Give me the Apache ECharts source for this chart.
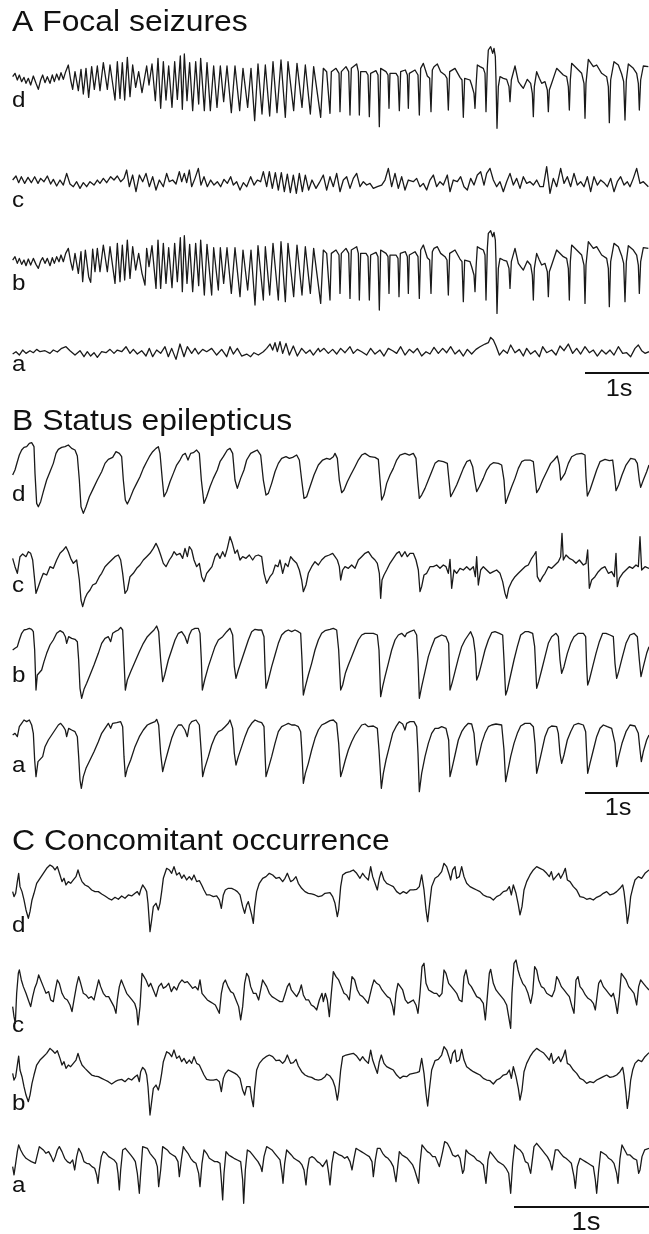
<!DOCTYPE html>
<html><head><meta charset="utf-8">
<script src="https://cdn.jsdelivr.net/npm/echarts/dist/echarts.min.js"></script>
<style>html,body{margin:0;padding:0;background:#fff}#c{width:649px;height:1234px}</style>
</head><body><div id="c"></div>
<script>
// sampling rates (samples per second) of each panel's time axis
const fsA = 192, fsB = 192, fsC = 405;
const scaleBarSeconds = 1;
const panelTitles = ['A Focal seizures', 'B Status epilepticus', 'C Concomitant occurrence'];
const traceLabels = ['d', 'c', 'b', 'a'];
const scaleBarLabel = '1s';

// ---- Panel A: focal seizures, [sample, amplitude] ----
const A_d = [[38,10],[45,20],[52,0],[58,15],[65,-5],[72,8],[78,-10],[85,5],[92,-15],[100,12],[108,-10],[115,-28],[122,0],[128,15],[135,-8],[142,10],[150,-10],[157,15],[163,-5],[170,18],[177,0],[183,22],[190,2],[197,25],[205,45],[212,0],[218,-28],[225,25],[235,-32],[243,32],[250,-42],[258,35],[266,-52],[275,40],[283,-28],[292,42],[300,-32],[310,52],[322,-28],[330,45],[345,-60],[352,55],[360,-55],[367,52],[374,-60],[382,68],[390,-50],[398,45],[407,-22],[416,25],[426,-38],[440,42],[447,-15],[456,48],[466,-62],[474,65],[482,-85],[490,55],[498,-60],[506,42],[516,-82],[524,55],[532,-58],[541,72],[547,-88],[553,78],[561,-62],[569,52],[578,-92],[587,55],[596,-72],[602,65],[613,-92],[621,52],[631,-92],[641,42],[651,-82],[661,42],[671,-65],[681,42],[694,-98],[705,42],[719,-92],[729,35],[743,-82],[753,35],[764,-122],[774,48],[786,-102],[796,45],[809,-108],[819,55],[831,-98],[843,60],[856,-112],[864,55],[881,-92],[891,50],[906,-82],[916,45],[931,-102],[941,40],[962,-112],
[970,35],[980,25],[986,20],[990,-100],[994,25],[1008,35],[1017,20],[1020,-95],[1024,25],[1038,40],[1046,25],[1050,-105],[1054,35],[1060,40],[1070,48],[1075,25],[1078,-105],[1082,25],[1088,25],[1098,25],[1104,15],[1108,-110],[1112,20],[1118,18],[1128,28],[1134,15],[1138,-140],[1142,35],[1148,40],[1158,25],[1164,15],[1167,-85],[1170,20],[1175,25],[1188,20],[1194,10],[1198,-92],[1202,25],[1206,28],[1216,30],[1222,15],[1225,-85],[1228,20],[1233,25],[1245,30],[1254,15],[1258,-105],[1262,35],[1270,50],[1282,12],[1289,5],[1293,-95],[1297,30],[1302,40],[1312,48],[1322,25],[1335,15],[1341,5],[1345,-90],[1349,25],[1353,30],[1365,35],[1380,8],[1386,0],[1390,-112],[1394,5],[1400,10],[1410,0],[1415,-15],[1422,-40],[1425,-85],[1428,-20],[1432,45],[1440,40],[1450,35],[1455,20],[1458,-95],[1462,40],[1465,90],[1472,100],[1478,80],[1482,95],[1486,70],[1488,0],[1491,-145],[1495,-20],[1500,10],[1510,5],[1520,2],[1527,-20],[1530,-65],[1534,0],[1545,42],[1555,-5],[1562,-15],[1570,-25],[1582,2],[1592,-10],[1597,-40],[1600,-110],[1603,-20],[1610,25],[1618,5],[1625,-10],[1635,-5],[1642,-30],[1645,-95],[1648,-30],[1655,-10],[1670,35],[1690,15],[1700,10],[1705,-20],[1708,-90],[1711,0],[1715,50],[1730,35],[1745,20],[1752,-10],[1755,-115],[1758,-10],[1765,62],[1780,40],[1790,45],[1805,20],[1820,10],[1825,-20],[1828,-128],[1832,0],[1842,55],[1855,45],[1865,18],[1871,-5],[1875,-120],[1879,0],[1885,48],[1900,35],[1910,20],[1915,-10],[1918,-90],[1922,0],[1930,42],[1945,40]];

const A_c = [[38,5],[48,17],[56,-3],[64,15],[74,-5],[84,13],[94,-3],[104,15],[114,-5],[122,10],[132,0],[142,17],[152,-7],[160,7],[170,-13],[180,5],[190,-10],[200,25],[210,-7],[220,-15],[230,0],[240,-20],[250,-3],[260,-15],[270,0],[282,-10],[292,5],[300,-5],[310,10],[320,-3],[332,15],[342,5],[352,17],[362,0],[372,10],[380,35],[388,-15],[398,20],[408,-30],[418,20],[428,0],[438,25],[448,-15],[458,15],[468,-25],[478,5],[490,-15],[500,25],[508,0],[518,5],[528,-7],[538,30],[545,0],[553,25],[560,-3],[568,35],[575,-15],[585,10],[595,40],[603,-10],[612,15],[622,-15],[632,5],[642,-10],[652,0],[662,-15],[672,7],[682,-5],[692,15],[700,-10],[710,0],[720,-25],[730,-3],[740,-15],[752,15],[762,-10],[772,5],[782,0],[790,30],[800,-15],[808,30],[817,-20],[826,27],[835,-25],[844,27],[853,-30],[862,23],[871,-33],[880,20],[889,-35],[898,25],[907,-30],[916,20],[926,-25],[936,5],[948,-20],[958,-3],
[970,20],[980,-25],[990,15],[1000,-15],[1010,25],[1020,-30],[1030,5],[1040,15],[1050,-20],[1060,10],[1070,25],[1080,-15],[1090,0],[1100,-10],[1110,-5],[1120,-20],[1132,-15],[1145,-10],[1155,5],[1165,40],[1175,-15],[1185,25],[1195,-20],[1205,15],[1215,-25],[1225,5],[1240,0],[1250,10],[1260,-15],[1270,-5],[1280,-25],[1290,5],[1300,20],[1310,-15],[1320,0],[1330,-10],[1342,20],[1350,-30],[1360,5],[1372,0],[1382,15],[1392,-15],[1402,-25],[1412,10],[1422,-10],[1432,20],[1442,30],[1452,-10],[1460,25],[1470,40],[1480,5],[1490,-15],[1500,0],[1510,-30],[1520,0],[1530,25],[1540,-10],[1550,10],[1560,-20],[1570,15],[1580,-5],[1590,0],[1600,-10],[1610,5],[1620,-15],[1630,-15],[1640,45],[1650,-35],[1660,10],[1670,-15],[1682,40],[1692,-5],[1702,15],[1712,-15],[1722,25],[1732,-10],[1742,0],[1752,-15],[1762,15],[1772,-30],[1782,15],[1792,-10],[1802,5],[1812,-3],[1822,-15],[1832,10],[1842,-30],[1852,0],[1862,15],[1872,-10],[1882,0],[1890,-15],[1900,10],[1910,40],[1920,-5],[1930,0],[1945,-15]];

const A_b = [[38,5],[45,15],[52,-5],[58,10],[65,-8],[72,5],[78,-12],[85,8],[92,-10],[100,10],[108,-8],[115,-20],[122,2],[128,12],[135,-5],[142,10],[150,-12],[157,12],[163,-5],[170,15],[177,0],[183,20],[190,0],[197,25],[205,40],[212,0],[218,-25],[225,25],[235,-35],[243,30],[248,-60],[256,35],[266,-45],[272,-62],[278,38],[285,-30],[292,40],[300,-30],[310,50],[322,-30],[330,45],[345,-65],[352,55],[360,-60],[367,50],[374,-55],[382,65],[390,-50],[398,45],[407,-25],[416,25],[426,-35],[435,-70],[440,40],[447,-15],[456,48],[468,-80],[474,65],[482,-80],[490,55],[498,-65],[506,42],[516,-78],[524,55],[532,-60],[541,72],[547,-90],[553,78],[561,-65],[569,52],[578,-90],[587,55],[596,-72],[602,65],[613,-100],[621,52],[635,-100],[641,42],[655,-85],[661,42],[671,-65],[681,42],[694,-95],[705,42],[720,-105],[729,35],[743,-85],[753,35],[765,-130],[774,48],[790,-115],[796,45],[809,-100],[819,55],[835,-115],[843,60],[856,-120],[864,55],[881,-105],[891,50],[906,-100],[916,45],[931,-95],[941,40],[962,-125],
[970,35],[980,25],[986,20],[990,-115],[994,25],[1008,35],[1017,20],[1020,-95],[1024,25],[1038,40],[1046,25],[1050,-110],[1054,35],[1060,40],[1070,45],[1075,25],[1078,-115],[1082,25],[1088,25],[1098,25],[1104,15],[1108,-115],[1112,20],[1118,18],[1128,28],[1134,15],[1138,-145],[1142,35],[1148,40],[1158,25],[1164,15],[1167,-95],[1170,20],[1175,25],[1188,20],[1194,10],[1197,-105],[1201,25],[1206,28],[1216,30],[1222,15],[1225,-95],[1228,20],[1233,25],[1245,30],[1254,15],[1258,-110],[1262,35],[1270,50],[1282,12],[1289,5],[1293,-95],[1297,30],[1302,40],[1312,45],[1322,25],[1335,15],[1341,5],[1345,-100],[1349,25],[1353,30],[1365,35],[1380,8],[1386,0],[1390,-120],[1394,5],[1400,10],[1410,0],[1415,-15],[1422,-40],[1425,-90],[1428,-20],[1432,45],[1440,40],[1450,35],[1455,20],[1458,-115],[1462,40],[1465,85],[1472,93],[1478,75],[1482,88],[1486,65],[1488,0],[1491,-155],[1495,-20],[1500,10],[1510,5],[1520,2],[1527,-20],[1530,-80],[1534,0],[1545,40],[1555,-5],[1562,-15],[1570,-25],[1582,2],[1592,-10],[1597,-40],[1600,-115],[1603,-20],[1610,25],[1618,5],[1625,-10],[1635,-5],[1642,-30],[1645,-105],[1648,-30],[1655,-10],[1670,35],[1690,15],[1700,10],[1705,-20],[1708,-115],[1711,0],[1715,50],[1730,35],[1745,20],[1752,-10],[1755,-125],[1758,-10],[1765,60],[1780,40],[1790,45],[1805,20],[1820,10],[1825,-20],[1828,-135],[1832,0],[1842,55],[1855,45],[1865,18],[1871,-5],[1875,-120],[1879,0],[1885,48],[1900,35],[1910,20],[1915,-10],[1918,-95],[1922,0],[1930,42],[1945,40]];

const A_a = [[38,-7],[48,0],[58,-10],[68,5],[78,-5],[90,3],[100,-3],[110,7],[120,0],[135,3],[150,-5],[160,5],[172,-1],[185,10],[198,15],[210,3],[225,-10],[240,3],[252,-15],[262,0],[272,-13],[282,-3],[292,-17],[305,0],[318,-3],[330,7],[342,-5],[352,5],[365,0],[378,15],[390,-5],[400,7],[412,-7],[425,3],[438,-13],[448,10],[458,-15],[470,5],[482,-5],[495,15],[505,-15],[515,10],[528,-23],[540,23],[552,-15],[562,15],[575,-5],[585,10],[595,-7],[608,7],[620,0],[635,10],[650,-10],[665,7],[680,-15],[690,15],[700,-7],[712,10],[725,-13],[740,-7],[752,-15],[762,-3],[775,-10],[790,0],[800,10],[810,23],[818,5],[825,27],[832,0],[840,30],[848,-5],[858,25],[868,-10],[880,17],[892,-13],[905,10],[918,-5],[930,5],[940,-10],[955,10],
[960,0],[972,10],[985,-5],[998,7],[1010,-7],[1022,10],[1035,-3],[1050,15],[1060,-5],[1072,7],[1085,0],[1100,-10],[1112,10],[1125,-7],[1140,5],[1152,-13],[1165,10],[1178,3],[1190,-5],[1202,15],[1215,-10],[1228,7],[1240,-3],[1252,10],[1265,-13],[1278,0],[1290,-7],[1302,13],[1315,-5],[1328,10],[1340,-3],[1352,15],[1365,-7],[1378,5],[1390,-13],[1402,7],[1415,-7],[1428,7],[1440,15],[1455,23],[1465,27],[1472,43],[1480,35],[1488,17],[1498,-10],[1510,5],[1522,-5],[1532,20],[1545,-3],[1558,7],[1570,-13],[1580,10],[1592,-7],[1605,3],[1618,-15],[1628,15],[1640,-3],[1655,5],[1668,-10],[1680,17],[1692,3],[1705,23],[1718,-5],[1730,10],[1742,-7],[1755,15],[1768,-3],[1780,5],[1792,-13],[1805,5],[1818,-7],[1830,5],[1842,-10],[1855,15],[1868,-5],[1880,-3],[1892,-15],[1905,10],[1915,20],[1925,3],[1935,-5],[1947,0]];

// ---- Panel B: status epilepticus ----
const B_d = [[38,5],[45,20],[52,45],[58,65],[65,80],[72,88],[80,90],[88,100],[95,102],[102,90],[105,10],[110,-80],[115,-90],[122,-75],[130,-45],[140,-10],[150,15],[160,40],[168,70],[175,82],[185,88],[195,90],[205,95],[215,85],[225,80],[232,62],[238,-10],[243,-90],[250,-110],[258,-90],[268,-60],[280,-35],[292,-10],[305,15],[315,40],[325,52],[338,58],[348,75],[358,70],[365,60],[370,-10],[376,-70],[382,-82],[390,-65],[400,-40],[410,-20],[420,0],[430,25],[440,45],[448,60],[458,75],[468,85],[475,90],[480,70],[487,-10],[492,-60],[500,-45],[510,-15],[520,10],[530,35],[540,50],[548,65],[556,70],[564,50],[572,70],[580,72],[590,80],[598,70],[604,-10],[612,-80],[620,-60],[630,-30],[640,-5],[652,20],[660,45],[670,60],[682,80],[690,85],[698,70],[705,-10],[712,-35],[722,-5],[732,20],[740,50],[752,70],[762,75],[772,80],[782,65],[790,-10],[798,-55],[805,-50],[815,-20],[825,15],[835,40],[845,55],[858,60],[868,55],[878,58],[890,65],[898,50],[905,-10],[912,-65],[920,-60],[930,-30],[942,5],[955,35],[968,50],[980,55],
[990,52],[1000,60],[1005,70],[1012,55],[1018,-10],[1025,-48],[1032,-40],[1042,-15],[1052,5],[1065,30],[1075,50],[1085,65],[1095,70],[1110,60],[1125,58],[1135,52],[1140,-10],[1145,-70],[1152,-55],[1160,-20],[1170,5],[1180,25],[1190,50],[1200,65],[1215,70],[1228,65],[1240,70],[1248,55],[1253,-10],[1258,-65],[1265,-55],[1275,-35],[1285,-10],[1295,15],[1305,40],[1315,48],[1330,45],[1342,40],[1346,0],[1352,-60],[1360,-45],[1370,-25],[1380,0],[1390,25],[1400,45],[1410,50],[1418,30],[1424,-10],[1430,-45],[1438,-30],[1450,-5],[1460,20],[1470,35],[1480,42],[1495,40],[1505,35],[1512,-10],[1517,-80],[1524,-60],[1535,-30],[1545,-5],[1555,25],[1565,45],[1575,50],[1590,50],[1600,45],[1605,0],[1610,-48],[1618,-35],[1628,-10],[1640,15],[1652,40],[1662,50],[1672,62],[1678,35],[1682,-10],[1686,-15],[1695,10],[1705,40],[1715,60],[1730,68],[1745,70],[1755,65],[1758,0],[1762,-58],[1770,-40],[1780,-10],[1790,20],[1800,45],[1815,52],[1828,48],[1838,50],[1844,0],[1848,-42],[1856,-25],[1866,5],[1878,35],[1892,55],[1905,52],[1912,40],[1918,-10],[1922,-32],[1930,-10],[1940,15],[1947,35]];

const B_c = [[38,35],[45,10],[52,-10],[60,40],[68,48],[78,40],[85,55],[92,50],[98,30],[103,-20],[108,-70],[115,-50],[122,-30],[130,-10],[140,-15],[150,10],[160,5],[170,30],[180,50],[190,60],[198,70],[205,55],[212,35],[220,20],[230,30],[238,-30],[243,-90],[248,-110],[255,-85],[262,-70],[270,-60],[278,-45],[288,-40],[298,-20],[305,-10],[315,10],[325,20],[335,30],[345,40],[355,45],[362,30],[368,-10],[375,-70],[382,-60],[390,-20],[400,-10],[410,5],[420,15],[430,30],[440,40],[450,50],[460,65],[468,80],[475,65],[482,45],[490,20],[498,10],[508,30],[515,40],[522,55],[530,45],[540,50],[548,35],[555,65],[562,40],[568,70],[575,60],[582,30],[590,10],[598,20],[605,-20],[612,-35],[620,-10],[628,0],[636,10],[645,40],[652,50],[660,35],[668,55],[675,40],[682,65],[690,100],[697,80],[705,50],[712,60],[720,30],[728,40],[738,35],[748,45],[758,30],[766,42],[775,45],[785,40],[792,-10],[800,-40],[810,-20],[818,-10],[826,15],[834,10],[840,30],[848,-10],[856,20],[864,10],[872,40],[880,30],[890,20],[898,0],[905,-30],[910,-65],[918,-45],[925,-10],[935,10],[945,25],[955,15],[965,30],[975,40],
[988,45],[998,50],[1005,40],[1012,30],[1018,10],[1022,-30],[1028,0],[1035,10],[1045,5],[1055,15],[1065,5],[1075,30],[1085,40],[1095,50],[1105,55],[1115,40],[1125,30],[1132,20],[1138,-10],[1142,-85],[1146,-30],[1152,-15],[1160,0],[1170,20],[1180,35],[1190,50],[1198,55],[1205,40],[1210,40],[1215,55],[1222,40],[1230,50],[1240,50],[1248,30],[1255,0],[1260,-65],[1265,-50],[1272,-15],[1280,-10],[1290,10],[1300,10],[1310,15],[1320,5],[1330,15],[1338,10],[1345,-10],[1350,32],[1355,-55],[1362,0],[1370,-10],[1380,5],[1390,0],[1400,10],[1410,0],[1420,10],[1426,-20],[1430,40],[1435,-45],[1442,0],[1450,10],[1460,0],[1470,-10],[1480,-5],[1490,0],[1500,-10],[1508,-35],[1515,-70],[1520,-85],[1526,-55],[1535,-35],[1545,-20],[1555,-10],[1565,0],[1575,10],[1585,15],[1595,35],[1602,45],[1608,55],[1612,-20],[1620,-35],[1628,-20],[1635,-10],[1645,10],[1655,5],[1665,15],[1675,25],[1682,40],[1686,110],[1690,30],[1698,45],[1708,35],[1718,30],[1728,20],[1738,30],[1750,15],[1758,20],[1763,60],[1768,-55],[1775,-30],[1785,-20],[1795,-5],[1805,5],[1815,10],[1825,-10],[1835,-5],[1843,-20],[1848,50],[1852,-50],[1858,-25],[1868,-10],[1878,0],[1888,10],[1898,5],[1908,15],[1915,10],[1920,100],[1925,0],[1935,10],[1947,5]];

const B_b = [[38,30],[45,35],[52,40],[58,60],[65,80],[72,90],[80,92],[88,95],[95,92],[100,85],[104,30],[108,-90],[112,-45],[118,-45],[125,-30],[132,-5],[140,20],[150,45],[160,60],[170,80],[180,88],[190,82],[196,70],[200,50],[206,70],[215,65],[225,62],[232,55],[236,0],[240,-85],[245,-115],[252,-88],[260,-70],[270,-45],[282,-15],[295,20],[305,50],[315,65],[325,70],[332,55],[338,80],[345,85],[355,90],[362,98],[368,90],[372,0],[376,-90],[382,-60],[392,-35],[405,-5],[418,25],[430,50],[442,70],[452,80],[462,90],[470,102],[476,85],[482,0],[488,-65],[494,-45],[505,0],[515,30],[525,60],[535,80],[545,85],[555,70],[562,50],[568,75],[575,90],[585,95],[595,95],[600,80],[604,0],[607,-90],[614,-60],[625,-20],[635,10],[645,40],[655,60],[668,70],[680,85],[690,95],[698,75],[703,-20],[708,-55],[715,-30],[725,0],[735,30],[745,60],[755,85],[765,92],[775,90],[785,90],[792,70],[795,-20],[798,-85],[805,-60],[815,-20],[825,15],[835,50],[845,75],[855,85],[865,90],[875,85],[885,90],[895,85],[902,80],[906,0],[910,-105],[916,-80],[925,-45],[935,-10],[945,30],[955,60],[965,80],[975,88],
[990,92],[1000,95],[1010,90],[1016,30],[1022,-90],[1028,-75],[1036,-40],[1045,-15],[1055,10],[1065,35],[1075,60],[1085,75],[1095,80],[1105,80],[1120,80],[1132,75],[1137,30],[1142,-110],[1148,-80],[1155,-50],[1165,-10],[1175,30],[1185,60],[1195,75],[1205,80],[1215,70],[1220,80],[1230,85],[1242,90],[1250,75],[1254,0],[1258,-115],[1265,-80],[1275,-35],[1285,10],[1295,40],[1305,65],[1315,70],[1325,75],[1338,70],[1346,50],[1350,-90],[1356,-70],[1365,-35],[1375,5],[1385,40],[1395,60],[1405,75],[1412,85],[1420,65],[1426,20],[1430,-60],[1436,-45],[1445,-10],[1455,30],[1465,60],[1475,82],[1485,85],[1498,80],[1508,75],[1512,0],[1517,-105],[1522,-90],[1532,-45],[1542,0],[1552,40],[1562,75],[1575,85],[1585,85],[1598,80],[1604,40],[1610,-85],[1616,-65],[1625,-30],[1635,10],[1645,50],[1655,70],[1668,80],[1675,70],[1680,0],[1685,-40],[1692,-20],[1702,20],[1712,50],[1722,70],[1735,80],[1750,80],[1757,70],[1760,-20],[1763,-75],[1768,-60],[1778,-20],[1788,20],[1798,55],[1808,80],[1818,80],[1830,75],[1840,70],[1845,-10],[1850,-55],[1856,-35],[1866,5],[1878,50],[1890,75],[1902,80],[1912,70],[1918,0],[1923,-50],[1930,-20],[1940,20],[1947,40]];

const B_a = [[38,45],[45,50],[52,40],[58,70],[65,80],[72,90],[80,85],[88,90],[95,75],[100,50],[104,-30],[108,-80],[114,-35],[120,-40],[128,-20],[135,10],[145,30],[155,45],[165,60],[175,75],[182,80],[190,70],[196,60],[200,40],[206,65],[215,60],[225,55],[232,40],[236,-20],[240,-90],[244,-115],[250,-80],[258,-55],[270,-30],[282,-5],[295,25],[305,50],[315,65],[325,80],[332,65],[338,80],[350,82],[362,85],[368,70],[372,-20],[376,-80],[382,-55],[392,-30],[405,10],[418,40],[430,60],[442,75],[452,80],[465,85],[470,92],[476,75],[482,-10],[488,-65],[494,-40],[505,0],[515,35],[525,60],[535,75],[545,75],[555,60],[562,40],[568,75],[575,85],[588,90],[598,75],[604,-10],[608,-80],[614,-55],[625,-20],[635,15],[645,40],[655,55],[665,60],[675,70],[685,80],[690,90],[698,65],[703,-10],[708,-45],[715,-20],[725,10],[735,40],[745,65],[755,80],[765,90],[775,85],[785,82],[792,70],[795,-10],[798,-80],[805,-55],[815,-20],[825,20],[835,55],[845,70],[855,75],[865,80],[875,75],[885,75],[895,70],[902,55],[906,-10],[910,-100],[916,-70],[925,-40],[935,0],[945,35],[955,60],[965,75],[975,80],
[990,88],[1000,90],[1010,80],[1016,20],[1022,-80],[1028,-60],[1036,-30],[1045,0],[1055,25],[1065,45],[1075,60],[1085,75],[1095,78],[1105,70],[1120,72],[1132,65],[1137,0],[1144,-115],[1150,-70],[1158,-30],[1168,10],[1178,50],[1188,70],[1198,85],[1208,78],[1215,60],[1220,80],[1230,85],[1242,85],[1250,70],[1254,-10],[1258,-125],[1265,-70],[1275,-20],[1285,20],[1295,50],[1305,65],[1315,65],[1325,70],[1338,65],[1346,30],[1350,-80],[1356,-55],[1365,-15],[1375,30],[1385,55],[1395,70],[1405,80],[1415,78],[1422,50],[1426,0],[1430,-45],[1436,-20],[1445,20],[1455,50],[1465,70],[1475,75],[1488,78],[1505,75],[1512,0],[1517,-95],[1522,-70],[1532,-20],[1542,20],[1552,50],[1562,72],[1575,80],[1590,80],[1600,70],[1605,20],[1610,-70],[1616,-45],[1625,-5],[1635,40],[1645,65],[1655,72],[1670,70],[1675,50],[1680,-10],[1685,-40],[1692,-15],[1702,30],[1712,55],[1722,75],[1735,80],[1750,75],[1757,55],[1760,-10],[1763,-70],[1770,-40],[1780,0],[1790,40],[1800,65],[1810,75],[1822,70],[1835,65],[1845,20],[1850,-50],[1856,-20],[1866,20],[1878,55],[1890,75],[1905,72],[1915,50],[1920,0],[1924,-35],[1930,-5],[1940,30],[1947,45]];

// ---- Panel C: concomitant occurrence ----
const C_d = [[38,5],[42,-10],[47,0],[52,35],[56,60],[60,20],[66,5],[72,-20],[78,-50],[85,-75],[90,-55],[96,-20],[102,0],[110,30],[120,45],[130,60],[140,75],[150,85],[158,80],[165,70],[172,80],[180,55],[186,35],[192,45],[198,25],[205,35],[212,30],[220,40],[228,50],[234,70],[240,50],[246,35],[255,25],[265,20],[275,10],[285,5],[295,5],[305,-2],[315,-8],[325,-15],[335,-20],[345,-12],[355,-18],[365,-8],[375,-15],[385,-5],[395,-8],[405,0],[412,5],[418,-5],[422,10],[428,25],[435,15],[440,5],[444,-30],[450,-115],[455,-80],[460,-40],[468,-30],[475,-50],[480,-30],[485,5],[490,45],[495,60],[500,75],[508,70],[515,60],[522,80],[530,55],[538,62],[545,45],[552,55],[560,40],[568,50],[575,40],[582,55],[590,35],[598,38],[605,25],[612,10],[620,-5],[630,-5],[640,-10],[650,-8],[658,-20],[664,-45],[670,-5],[676,10],[685,15],[695,15],[705,10],[712,5],[720,-5],[728,-40],[734,-60],[740,-35],[745,-25],[750,-30],[755,-65],[760,-90],[764,-40],[770,5],[778,30],[788,45],[798,50],[808,60],[818,55],[828,45],[838,48],[848,35],[855,45],[862,60],[868,55],[872,35],[880,40],[888,50],[895,30],[905,15],[915,5],[925,0],[935,-2],[945,-5],[955,-10],[965,-8],[975,0],
[980,5],[990,2],[998,-10],[1005,-30],[1012,-70],[1016,-50],[1022,20],[1028,55],[1038,62],[1050,65],[1060,70],[1070,60],[1080,45],[1088,60],[1095,50],[1105,40],[1112,80],[1118,50],[1125,30],[1132,10],[1138,45],[1144,65],[1152,40],[1160,30],[1170,25],[1180,20],[1190,5],[1200,-2],[1210,5],[1220,0],[1230,10],[1240,10],[1250,12],[1258,20],[1265,55],[1272,10],[1278,-50],[1283,-85],[1288,-40],[1295,20],[1305,45],[1315,52],[1325,65],[1332,90],[1340,80],[1348,55],[1352,40],[1358,70],[1365,80],[1370,45],[1378,50],[1385,80],[1392,50],[1400,30],[1410,20],[1420,15],[1430,10],[1440,5],[1450,-5],[1460,-10],[1470,-12],[1480,-20],[1490,-10],[1500,-5],[1510,5],[1520,8],[1528,20],[1534,-5],[1540,25],[1548,0],[1555,-35],[1560,-65],[1566,-40],[1572,10],[1580,35],[1590,55],[1600,70],[1610,80],[1620,75],[1630,70],[1640,60],[1648,50],[1654,65],[1660,40],[1668,50],[1676,60],[1682,45],[1690,60],[1696,75],[1702,40],[1710,35],[1720,20],[1730,10],[1740,-10],[1750,-12],[1760,-18],[1770,-15],[1780,-20],[1790,-12],[1800,-8],[1810,0],[1820,5],[1830,-5],[1840,-2],[1850,5],[1860,15],[1868,25],[1872,5],[1878,-45],[1882,-90],[1887,-60],[1892,-10],[1898,15],[1905,40],[1915,50],[1925,45],[1935,60],[1947,70]];

const C_c = [[38,-40],[42,-70],[46,-90],[50,0],[55,60],[58,70],[64,40],[70,20],[78,0],[85,-20],[92,-40],[98,-10],[104,15],[110,30],[116,55],[122,40],[130,20],[138,0],[146,5],[152,-20],[160,-25],[166,10],[172,40],[178,30],[186,0],[194,-15],[202,-20],[210,-35],[216,-55],[222,-20],[230,25],[236,50],[242,30],[250,0],[258,-5],[266,-15],[274,-10],[282,-20],[290,15],[296,40],[302,20],[310,0],[318,-10],[326,-10],[334,-25],[342,-40],[348,-60],[352,-20],[358,20],[364,40],[372,20],[380,0],[388,-10],[396,-20],[404,-30],[410,-50],[414,-95],[420,-40],[426,60],[432,50],[438,40],[446,20],[452,30],[460,10],[468,-10],[476,20],[484,30],[490,15],[498,20],[506,30],[514,5],[522,20],[530,10],[538,30],[546,40],[554,32],[562,35],[570,25],[578,15],[586,20],[594,10],[600,40],[606,0],[614,-10],[622,-20],[630,-25],[638,-30],[646,-35],[652,-40],[658,-60],[664,0],[670,30],[676,40],[684,20],[692,5],[700,0],[708,-20],[716,-40],[722,-80],[728,-40],[734,30],[740,60],[746,50],[752,20],[760,0],[768,0],[776,-20],[782,10],[788,40],[794,40],[800,20],[808,0],[816,-10],[824,-15],[832,-20],[840,-25],[848,-25],[856,0],[862,20],[868,30],[874,10],[882,0],[890,-10],[898,5],[904,25],[910,-5],[918,-20],[926,-20],[934,-35],[942,-40],[950,-50],[958,-20],[966,0],
[970,-25],[976,0],[982,-20],[988,-70],[994,0],[1000,65],[1008,50],[1016,40],[1024,20],[1032,0],[1040,-5],[1048,-20],[1056,50],[1064,40],[1072,10],[1080,-5],[1088,-10],[1096,-20],[1104,-30],[1110,-25],[1116,20],[1122,40],[1130,30],[1138,25],[1146,10],[1154,0],[1162,-10],[1170,-15],[1178,-40],[1182,-65],[1188,0],[1194,30],[1200,25],[1208,10],[1216,-20],[1224,-30],[1232,-25],[1240,-20],[1248,-35],[1254,-60],[1260,0],[1266,80],[1272,90],[1278,30],[1286,10],[1294,5],[1302,0],[1310,0],[1318,-10],[1326,0],[1332,70],[1338,60],[1346,30],[1354,20],[1362,10],[1370,0],[1378,-20],[1386,-25],[1392,50],[1398,70],[1406,30],[1414,20],[1422,5],[1430,-10],[1440,-15],[1450,-30],[1456,-80],[1462,-10],[1468,60],[1472,72],[1480,30],[1488,10],[1496,0],[1504,-10],[1512,-20],[1520,-35],[1526,-40],[1532,-105],[1536,0],[1542,90],[1548,100],[1554,70],[1560,50],[1568,30],[1576,20],[1584,0],[1592,-30],[1598,0],[1604,80],[1610,70],[1616,40],[1624,20],[1632,15],[1640,0],[1648,-5],[1656,-10],[1664,10],[1670,50],[1676,40],[1684,20],[1692,10],[1700,0],[1708,-10],[1716,-40],[1722,-60],[1728,40],[1734,50],[1740,20],[1748,10],[1756,-5],[1764,-15],[1772,-20],[1780,-30],[1786,-50],[1790,-55],[1796,30],[1802,40],[1810,20],[1818,10],[1826,0],[1834,-10],[1840,0],[1846,-25],[1852,-60],[1858,-10],[1864,60],[1870,65],[1878,40],[1886,20],[1894,10],[1902,0],[1910,-35],[1916,20],[1922,40],[1930,30],[1938,20],[1947,10]];

const C_b = [[38,10],[42,-10],[47,0],[52,35],[56,62],[60,20],[66,0],[72,-30],[78,-55],[85,-75],[90,-55],[96,-20],[102,5],[110,35],[120,50],[130,60],[140,70],[150,85],[158,78],[165,70],[172,78],[180,55],[186,35],[192,45],[198,25],[205,35],[212,30],[220,40],[228,50],[234,70],[240,50],[246,35],[255,25],[265,15],[275,5],[285,2],[295,0],[305,-5],[315,-10],[325,-15],[335,-22],[345,-15],[355,-10],[365,-8],[375,-15],[385,-5],[395,-10],[405,0],[412,5],[418,-15],[422,15],[428,28],[435,20],[440,5],[444,-30],[450,-115],[455,-75],[460,-35],[468,-25],[475,-40],[480,-20],[485,10],[490,45],[495,60],[500,75],[508,70],[515,60],[522,80],[530,55],[538,62],[545,45],[552,55],[560,40],[568,50],[575,40],[582,60],[590,40],[598,35],[605,20],[612,5],[620,-8],[630,-10],[640,-10],[650,-8],[658,-15],[664,-45],[670,-5],[676,10],[685,20],[695,15],[705,10],[712,5],[720,-5],[728,-40],[734,-55],[740,-30],[745,-25],[750,-30],[755,-65],[760,-90],[764,-35],[770,20],[778,40],[788,52],[798,60],[808,65],[818,60],[828,48],[838,50],[848,40],[855,48],[862,65],[868,60],[872,40],[880,42],[888,52],[895,32],[905,15],[915,5],[925,0],[935,-2],[945,-8],[955,-10],[965,-8],[975,0],
[980,8],[990,2],[998,-10],[1005,-30],[1012,-70],[1016,-45],[1022,20],[1028,60],[1038,65],[1050,68],[1060,70],[1070,62],[1080,48],[1088,60],[1095,50],[1105,40],[1112,80],[1118,50],[1125,30],[1132,10],[1138,45],[1144,65],[1152,40],[1160,30],[1170,25],[1180,20],[1190,5],[1200,-5],[1210,2],[1220,0],[1230,8],[1240,10],[1250,12],[1258,15],[1265,55],[1272,10],[1278,-50],[1283,-88],[1288,-40],[1295,20],[1305,48],[1315,52],[1325,65],[1332,90],[1340,80],[1348,55],[1352,40],[1358,70],[1365,80],[1370,45],[1378,50],[1385,82],[1392,50],[1400,30],[1410,22],[1420,15],[1430,10],[1440,5],[1450,-5],[1460,-10],[1470,-12],[1480,-22],[1490,-10],[1500,-5],[1510,5],[1520,8],[1528,20],[1534,-5],[1540,30],[1548,0],[1555,-35],[1560,-70],[1566,-40],[1572,15],[1580,40],[1590,60],[1600,75],[1610,85],[1620,78],[1630,72],[1640,60],[1648,50],[1654,70],[1660,40],[1668,50],[1676,60],[1682,45],[1690,62],[1696,80],[1702,40],[1710,35],[1720,20],[1730,10],[1740,-5],[1750,-10],[1760,-20],[1770,-15],[1780,-18],[1790,-10],[1800,-5],[1810,0],[1820,5],[1830,-2],[1840,0],[1850,5],[1860,15],[1868,28],[1872,5],[1878,-50],[1882,-95],[1887,-60],[1892,-10],[1898,20],[1905,40],[1915,50],[1925,45],[1935,60],[1947,72]];

const C_a = [[38,-10],[42,-35],[47,0],[52,35],[56,55],[62,40],[70,25],[78,15],[86,10],[94,5],[100,10],[106,0],[112,25],[118,50],[124,55],[130,40],[138,30],[146,35],[154,20],[160,5],[166,20],[172,40],[178,50],[186,35],[194,15],[202,5],[210,0],[218,10],[224,-20],[230,20],[236,45],[244,30],[252,5],[260,0],[268,-2],[276,-10],[284,-15],[290,-35],[294,-60],[298,-20],[304,20],[310,35],[318,30],[326,20],[334,15],[342,10],[350,0],[354,-30],[358,-80],[362,-20],[368,40],[376,45],[384,35],[392,25],[400,15],[406,5],[412,-30],[418,-90],[422,-30],[428,50],[434,55],[442,45],[450,30],[458,20],[466,10],[472,-10],[476,-70],[482,-20],[488,50],[494,55],[502,40],[510,30],[518,25],[526,20],[534,5],[538,-40],[544,10],[550,50],[556,40],[564,30],[572,15],[580,5],[588,0],[596,-30],[600,-70],[606,0],[612,40],[620,30],[628,15],[636,10],[644,5],[652,5],[660,0],[664,-50],[668,-110],[672,-30],[678,35],[686,25],[694,20],[702,15],[712,10],[722,5],[728,-50],[731,-120],[736,-20],[742,40],[750,35],[758,25],[766,15],[774,5],[782,-10],[786,-25],[792,20],[800,50],[808,45],[816,40],[824,30],[832,20],[840,10],[846,-30],[849,-60],[854,0],[860,40],[866,45],[874,25],[882,15],[890,10],[898,5],[906,-5],[912,-20],[918,-65],[922,-20],[928,15],[936,20],[944,15],[952,5],[960,0],
[968,-10],[974,0],[980,10],[986,-30],[990,-65],[996,0],[1002,35],[1010,30],[1018,25],[1026,22],[1034,15],[1042,20],[1050,5],[1056,-20],[1062,15],[1068,45],[1076,40],[1084,35],[1092,30],[1100,25],[1108,20],[1116,5],[1120,-40],[1126,10],[1132,45],[1140,45],[1148,30],[1156,20],[1164,15],[1172,5],[1180,-10],[1188,-55],[1192,-20],[1198,35],[1206,25],[1214,20],[1222,15],[1230,5],[1238,-5],[1244,-20],[1256,-60],[1260,0],[1266,55],[1274,45],[1282,35],[1290,30],[1298,20],[1306,20],[1312,20],[1318,-10],[1322,-15],[1328,35],[1334,65],[1342,60],[1350,45],[1358,25],[1366,20],[1374,25],[1380,15],[1388,-30],[1392,-20],[1398,40],[1406,30],[1414,25],[1422,20],[1430,10],[1440,5],[1450,-5],[1458,-60],[1464,10],[1470,35],[1478,25],[1486,15],[1494,5],[1502,0],[1510,-5],[1518,-15],[1526,-30],[1532,-90],[1538,0],[1544,55],[1552,45],[1560,40],[1568,30],[1576,5],[1584,0],[1592,-30],[1596,-25],[1602,50],[1610,60],[1618,50],[1626,40],[1634,30],[1642,20],[1650,5],[1656,-20],[1660,-15],[1666,40],[1674,40],[1682,30],[1690,20],[1698,15],[1706,8],[1714,0],[1722,-40],[1726,-75],[1732,-10],[1740,15],[1748,10],[1756,5],[1764,0],[1772,-5],[1780,-10],[1786,-50],[1790,-90],[1796,-20],[1802,35],[1810,30],[1818,25],[1826,15],[1834,10],[1842,0],[1850,-30],[1854,-60],[1860,15],[1866,55],[1874,40],[1882,25],[1890,25],[1900,15],[1910,10],[1916,-30],[1920,-20],[1926,20],[1934,40],[1947,45]];

// ---------------- layout (pixels) ----------------
const W = 649, X0 = 12;
const T_MIN = 36, T_MAX = 1947;
const TRACE_H = 120;            // px height of each trace band
const AMP_HALF = 180;           // amplitude units at band edge (3 units per px)
const FONT = '"Liberation Sans", Arial, Helvetica, sans-serif';
const INK = '#1a1a1a';

const panels = [
  { title: panelTitles[0], titleY: 22.5, traces: [A_d, A_c, A_b, A_a], centers: [80, 181.7, 261.7, 351.7],
    labelY: [101, 201, 284, 365], fs: fsA, barY: 373, barLabelY: 390, barLabelX: 619, barFont: 23 },
  { title: panelTitles[1], titleY: 421.5, traces: [B_d, B_c, B_b, B_a], centers: [476.7, 570, 660, 750],
    labelY: [495, 586, 676, 766], fs: fsB, barY: 793, barLabelY: 809, barLabelX: 618, barFont: 23 },
  { title: panelTitles[2], titleY: 841.5, traces: [C_d, C_c, C_b, C_a], centers: [893.3, 993.3, 1076.7, 1163.3],
    labelY: [926, 1026, 1104, 1186], fs: fsC, barY: 1207, barLabelY: 1223, barLabelX: 586, barFont: 25 }
];

const grids = [], xAxes = [], yAxes = [], series = [], graphics = [];
function addAxisPair(top, height, ymin, ymax) {
  const i = grids.length;
  grids.push({ left: X0, right: 0, top: top, height: height, containLabel: false });
  xAxes.push({ type: 'value', gridIndex: i, min: T_MIN, max: T_MAX, show: false });
  yAxes.push({ type: 'value', gridIndex: i, min: ymin, max: ymax, show: false });
  return i;
}

panels.forEach(p => {
  graphics.push({ type: 'text', x: 12, y: p.titleY, scaleX: 1.1, scaleY: 1,
    style: { text: p.title, font: '29px ' + FONT, fill: '#111', textAlign: 'left', textVerticalAlign: 'middle', align: 'left', verticalAlign: 'middle' } });
  p.traces.forEach((data, k) => {
    const gi = addAxisPair(p.centers[k] - TRACE_H / 2, TRACE_H, -AMP_HALF, AMP_HALF);
    series.push({ type: 'line', xAxisIndex: gi, yAxisIndex: gi, data: data, showSymbol: false, symbol: 'none',
      clip: false, silent: true, animation: false,
      lineStyle: { color: INK, width: 1.3, join: 'round' } });
    graphics.push({ type: 'text', x: 12, y: p.labelY[k], scaleX: 1.1,
      style: { text: traceLabels[k], font: '22px ' + FONT, fill: '#111', textAlign: 'left', textVerticalAlign: 'middle', align: 'left', verticalAlign: 'middle' } });
  });
  // scale bar: 1 s measured on the panel's own time axis, ending at the last sample
  const lastT = p.traces[0][p.traces[0].length - 1][0];
  const endT = Math.max(lastT, T_MAX);
  const bi = addAxisPair(p.barY - 5, 10, -1, 1);
  series.push({ type: 'line', xAxisIndex: bi, yAxisIndex: bi,
    data: [[endT - p.fs * scaleBarSeconds, 0], [endT, 0]], showSymbol: false, symbol: 'none',
    clip: false, silent: true, animation: false, lineStyle: { color: '#111', width: 2 } });
  graphics.push({ type: 'text', x: p.barLabelX, y: p.barLabelY, scaleX: 1.1,
    style: { text: scaleBarLabel, font: p.barFont + 'px ' + FONT, fill: '#111', textAlign: 'center', textVerticalAlign: 'middle', align: 'center', verticalAlign: 'middle' } });
});

const chart = echarts.init(document.getElementById('c'), null, { renderer: 'canvas', width: W, height: 1234 });
chart.setOption({
  backgroundColor: '#ffffff',
  animation: false,
  grid: grids, xAxis: xAxes, yAxis: yAxes, series: series,
  graphic: { elements: graphics }
});
</script></body></html>
